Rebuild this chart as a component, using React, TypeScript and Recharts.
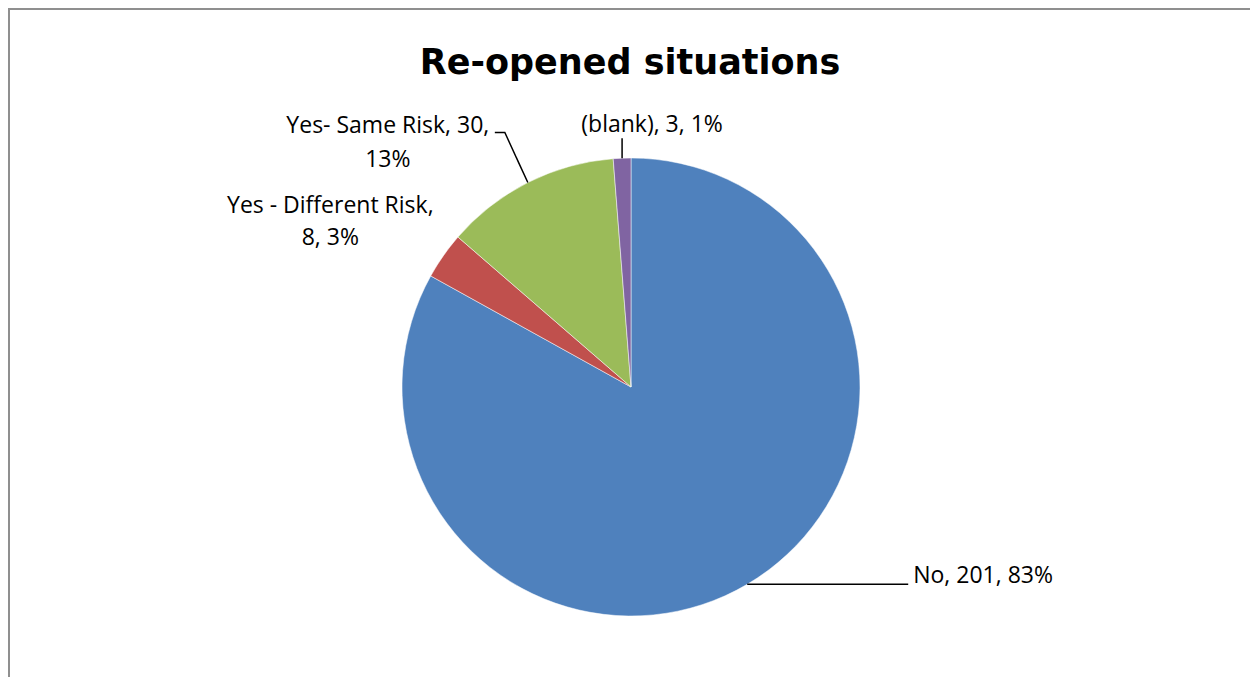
import { Cell, Pie, PieChart } from "recharts";

const categories = ["No", "Yes - Different Risk", "Yes- Same Risk", "(blank)"];
const counts = [201, 8, 30, 3];
const percentLabels = ["83%", "3%", "13%", "1%"];

const sliceColors = ["#4f81bd", "#c0504d", "#9bbb59", "#8064a2"];

// where each data label sits, relative to the slice's outer edge point
const labelLayout = [
  { line: [[0, 0], [161, 0]], anchor: "start", dx: 166, baselines: [-1], split: 3 },
  { line: [], anchor: "middle", dx: -113, baselines: [-43, -11], split: 1 },
  { line: [[0, 0], [-23, -50], [-33, -50]], anchor: "middle", dx: -140, baselines: [-50, -16], split: 2 },
  { line: [[0, 0], [0, -20]], anchor: "middle", dx: 30, baselines: [-26], split: 3 },
];

const data = categories.map((name, i) => ({
  name,
  value: counts[i],
  pct: percentLabels[i],
}));

const RAD = Math.PI / 180;
const labelFont = "'Open Sans', sans-serif";

function SliceLabel(props: any) {
  const { cx, cy, midAngle, outerRadius, index, name, value } = props;
  const layout = labelLayout[index];
  const ex = cx + outerRadius * Math.cos(-midAngle * RAD);
  const ey = cy + outerRadius * Math.sin(-midAngle * RAD);
  const parts = [name, String(value), percentLabels[index]];
  const first = parts.slice(0, layout.split).join(", ");
  const rest = parts.slice(layout.split).join(", ");
  const lines = rest ? [first + ",", rest] : [first];
  return (
    <g>
      {layout.line.length > 0 && (
        <polyline
          points={layout.line.map(([x, y]) => `${ex + x},${ey + y}`).join(" ")}
          fill="none"
          stroke="#000"
          strokeWidth={1.5}
        />
      )}
      {lines.map((t, k) => (
        <text
          key={k}
          x={ex + layout.dx}
          y={ey + layout.baselines[k]}
          textAnchor={layout.anchor as any}
          fill="#000"
          fontSize={23}
          fontFamily={labelFont}
        >
          {t}
        </text>
      ))}
    </g>
  );
}

export default function App() {
  return (
    <div
      style={{
        position: "fixed",
        left: 8,
        top: 8,
        width: 1240,
        height: 667,
        borderLeft: "2px solid #8f8f8f",
        borderTop: "2px solid #8f8f8f",
        background: "#fff",
        overflow: "hidden",
      }}
    >
      <div
        style={{
          position: "absolute",
          left: 0,
          top: 32,
          width: 1240,
          textAlign: "center",
          fontFamily: "'DejaVu Sans', sans-serif",
          fontWeight: "bold",
          fontSize: 35,
          lineHeight: "40px",
          color: "#000",
        }}
      >
        Re-opened situations
      </div>
      <PieChart width={1240} height={667}>
        <Pie
          data={data}
          dataKey="value"
          nameKey="name"
          cx={616}
          cy={372}
          outerRadius={229}
          startAngle={90}
          endAngle={-270}
          stroke="#ffffff"
          strokeWidth={0.5}
          labelLine={false}
          label={SliceLabel}
          isAnimationActive={false}
        >
          {data.map((entry, index) => (
            <Cell key={`cell-${entry.name}`} fill={sliceColors[index]} />
          ))}
        </Pie>
      </PieChart>
    </div>
  );
}
